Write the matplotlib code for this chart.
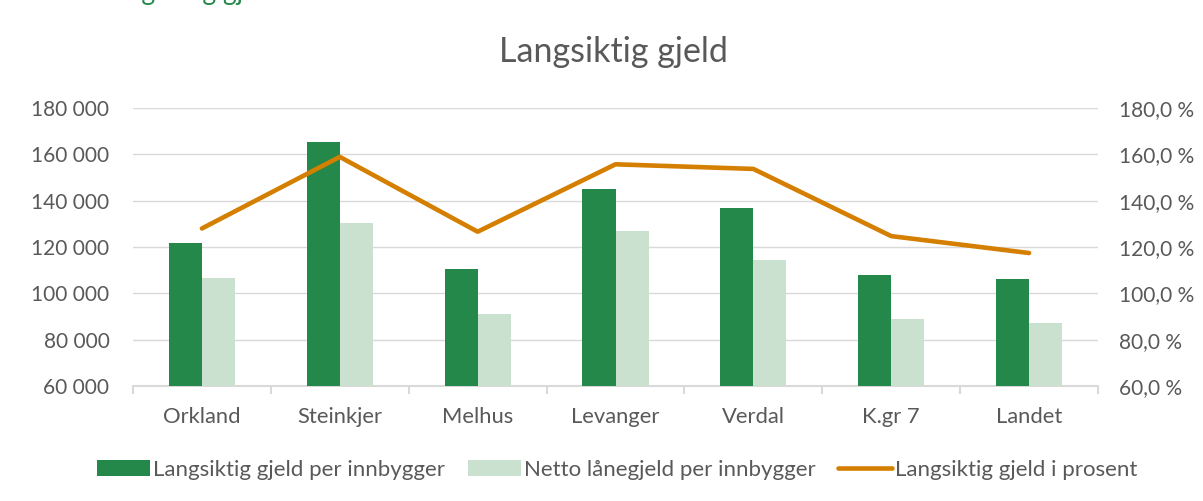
import matplotlib.pyplot as plt
import numpy as np
from matplotlib.ticker import FuncFormatter, MultipleLocator

# data
kommuner = ["Orkland", "Steinkjer", "Melhus", "Levanger", "Verdal", "K.gr 7", "Landet"]
gjeld_per_innb = [121700, 165400, 110300, 145200, 136900, 107800, 106400]
netto_per_innb = [106500, 130200, 91200, 127000, 114600, 88900, 87200]
gjeld_prosent = [128.0, 158.9, 126.6, 155.7, 153.7, 124.7, 117.4]

# colours
dark_green = "#23884A"
light_green = "#CBE1D0"
orange = "#D47F00"
grid_grey = "#D9D9D9"
text_grey = "#595959"

plt.rcParams['font.family'] = ['Lato', 'DejaVu Sans']

fig = plt.figure(figsize=(12.03, 5.01), dpi=100)
ax = fig.add_axes([133/1203, 1 - 386/501, (1098 - 133)/1203, (386 - 108)/501])
ax2 = ax.twinx()

x = np.arange(len(kommuner))
w = 0.24
ax.bar(x - w/2, gjeld_per_innb, width=w, color=dark_green, zorder=3,
       label="Langsiktig gjeld per innbygger")
ax.bar(x + w/2, netto_per_innb, width=w, color=light_green, zorder=3,
       label="Netto lånegjeld per innbygger")
ax2.plot(x, gjeld_prosent, color=orange, lw=3.3, solid_capstyle='round',
         solid_joinstyle='round', label="Langsiktig gjeld i prosent")

# left axis
ax.set_xlim(-0.5, len(kommuner) - 0.5)
ax.set_ylim(60000, 180000)
ax.yaxis.set_major_locator(MultipleLocator(20000))
ax.yaxis.set_major_formatter(FuncFormatter(lambda v, p: f"{int(v):,}".replace(",", " ")))
ax.grid(axis='y', color=grid_grey, lw=1.0, zorder=0)
ax.set_axisbelow(True)

# right axis
ax2.set_ylim(60, 180)
ax2.yaxis.set_major_locator(MultipleLocator(20))
ax2.yaxis.set_major_formatter(FuncFormatter(lambda v, p: f"{v:.1f}".replace(".", ",") + " %"))

for a in (ax, ax2):
    for s in ['top', 'left', 'right', 'bottom']:
        a.spines[s].set_visible(False)
    a.tick_params(axis='y', length=0, labelsize=15, labelcolor=text_grey)
ax.tick_params(axis='y', pad=17)
ax2.tick_params(axis='y', pad=15)

ax.spines['bottom'].set_visible(True)
ax.spines['bottom'].set_color(grid_grey)
ax.spines['bottom'].set_linewidth(1.5)

# category labels in the middle, tick marks on the boundaries
ax.set_xticks(x)
ax.set_xticklabels(kommuner)
ax.set_xticks(np.arange(len(kommuner) + 1) - 0.5, minor=True)
ax.tick_params(axis='x', which='major', length=0, pad=15, labelsize=15.8, labelcolor=text_grey)
ax.tick_params(axis='x', which='minor', length=6, width=1.5, color=grid_grey)

# title + the cut-off heading at the very top
fig.text(613/1203, 1 - 62/501, "Langsiktig gjeld", ha='center', va='baseline',
         fontsize=24.5, color=text_grey)
fig.text(100/1203, 1.0, "Langsiktig gjeld", ha='left', va='baseline',
         fontsize=19, color=dark_green)

# legend
h1, l1 = ax.get_legend_handles_labels()
h2, l2 = ax2.get_legend_handles_labels()
fig.legend(h1 + h2, l1 + l2, loc='center', bbox_to_anchor=(617/1203, 1 - 470/501),
           ncol=3, frameon=False, fontsize=16, labelcolor=text_grey,
           handlelength=2.4, handletextpad=0.15, columnspacing=1.0)

fig.savefig("out.png", dpi=100)
